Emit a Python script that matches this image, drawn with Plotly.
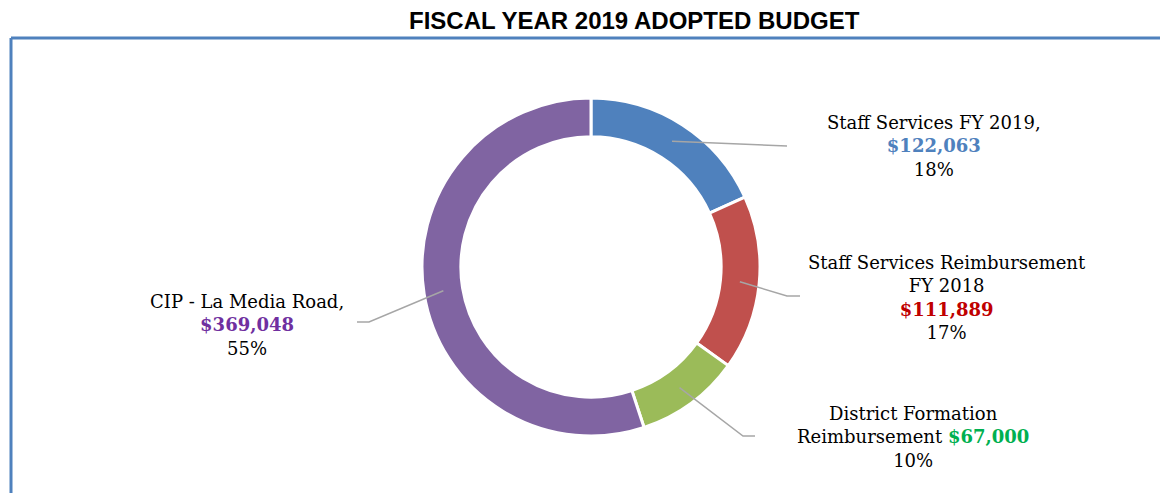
import math
import plotly.graph_objects as go

W, H = 1160, 493

categories = ["Staff Services FY 2019", "Staff Services Reimbursement FY 2018",
              "District Formation Reimbursement", "CIP - La Media Road"]
values = [122063, 111889, 67000, 369048]
slice_colors = ["#4F81BD", "#C0504D", "#9BBB59", "#8064A2"]
value_colors = ["#4F81BD", "#C00000", "#00B050", "#7030A0"]
label_prefix = ["Staff Services FY 2019,<br>", "Staff Services Reimbursement<br>FY 2018<br>",
                "District Formation<br>Reimbursement ", "CIP - La Media Road,<br>"]

# geometry (pixels)
cx, cy, R = 591, 267, 169
hole = 0.77


def px(x):
    return x / W


def py(y):
    return 1 - y / H


fig = go.Figure(go.Pie(
    labels=categories, values=values, sort=False, direction="clockwise", rotation=0,
    hole=hole, textinfo="none", hoverinfo="label+value+percent",
    marker=dict(colors=slice_colors, line=dict(color="white", width=3)),
    domain=dict(x=[px(cx - R), px(cx + R)], y=[py(cy + R), py(cy - R)]),
    showlegend=False,
))

total = sum(values)
pcts = [round(v / total * 100) for v in values]

# leader-line elbows and label anchors (pixels)
elbows = [((787, 146), (787, 146)), ((787, 296), (800, 296)),
          ((743, 436), (755, 436)), ((369, 322), (357, 322))]
label_pos = [(934, 146, "center"), (947, 297, "center"), (913, 437, "center"), (247, 325, "center")]

shapes = []
annotations = []
cum = 0
rmid = R * (1 + hole) / 2
for i, v in enumerate(values):
    mid = (cum + v / 2) / total * 2 * math.pi
    cum += v
    sx = cx + rmid * math.sin(mid)
    sy = cy - rmid * math.cos(mid)
    (ex, ey), (fx, fy) = elbows[i]
    path = f"M {px(sx)} {py(sy)} L {px(ex)} {py(ey)} L {px(fx)} {py(fy)}"
    shapes.append(dict(type="path", xref="paper", yref="paper", path=path,
                       line=dict(color="#A6A6A6", width=1.5)))
    lx, ly, al = label_pos[i]
    txt = (f"{label_prefix[i]}<b><span style='color:{value_colors[i]}'>${v:,}</span></b>"
           f"<br>{pcts[i]}%")
    annotations.append(dict(x=px(lx), y=py(ly), xref="paper", yref="paper", text=txt,
                            showarrow=False, align=al, xanchor="center", yanchor="middle",
                            font=dict(family="DejaVu Serif, Liberation Serif, serif",
                                      size=18, color="#000000")))

# border frame
shapes.append(dict(type="line", xref="paper", yref="paper", x0=px(11), y0=py(38), x1=1.01, y1=py(38),
                   line=dict(color="#4F81BD", width=3)))
shapes.append(dict(type="line", xref="paper", yref="paper", x0=px(11), y0=py(38), x1=px(11), y1=-0.02,
                   line=dict(color="#4F81BD", width=3)))

annotations.append(dict(x=px(634), y=py(20), xref="paper", yref="paper",
                        text="<b>FISCAL YEAR 2019 ADOPTED BUDGET</b>", showarrow=False,
                        xanchor="center", yanchor="middle",
                        font=dict(family="Liberation Sans Narrow, Liberation Sans, Arial, sans-serif",
                                  size=24, color="#000000")))

fig.update_layout(width=W, height=H, margin=dict(l=0, r=0, t=0, b=0),
                  paper_bgcolor="white", plot_bgcolor="white",
                  shapes=shapes, annotations=annotations)

fig.write_html("out.html", config={"displayModeBar": False},
               post_script="document.body.style.margin='0';document.body.style.overflow='hidden';")
